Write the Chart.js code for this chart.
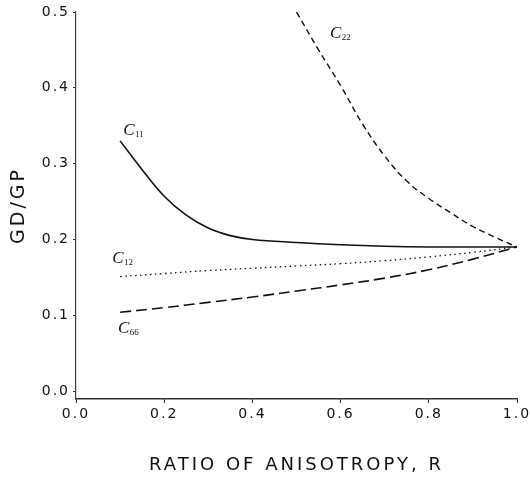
<!DOCTYPE html>
<html>
<head>
<meta charset="utf-8">
<script src="https://cdn.jsdelivr.net/npm/chart.js@4/dist/chart.umd.min.js"></script>
<style>
  html, body { margin: 0; padding: 0; background: #fff; }
  #wrap { width: 530px; height: 480px; }
</style>
</head>
<body>
<div id="wrap"><canvas id="c" width="530" height="480"></canvas></div>
<script>
// ---- data ----
const rC11 = [0.1, 0.15, 0.2, 0.25, 0.3, 0.35, 0.4, 0.5, 0.6, 0.7, 0.8, 0.9, 1.0];
const vC11 = [0.330, 0.292, 0.257, 0.232, 0.215, 0.205, 0.200, 0.196, 0.193, 0.191, 0.190, 0.190, 0.190];

const rC22 = [0.5, 0.55, 0.6, 0.65, 0.7, 0.75, 0.8, 0.85, 0.9, 0.95, 1.0];
const vC22 = [0.500, 0.450, 0.403, 0.352, 0.310, 0.277, 0.254, 0.235, 0.217, 0.203, 0.190];

const rC12 = [0.1, 0.2, 0.3, 0.4, 0.5, 0.6, 0.7, 0.8, 0.9, 1.0];
const vC12 = [0.151, 0.155, 0.159, 0.162, 0.165, 0.168, 0.172, 0.177, 0.183, 0.190];

const rC66 = [0.1, 0.2, 0.3, 0.4, 0.5, 0.6, 0.7, 0.8, 0.9, 1.0];
const vC66 = [0.104, 0.110, 0.117, 0.124, 0.132, 0.140, 0.149, 0.160, 0.174, 0.190];

// curve labels (subscript part) and their anchor in data coordinates
const labelSubs = ['11', '22', '12', '66'];
const labelR    = [0.107, 0.576, 0.082, 0.095];
const labelV    = [0.344, 0.472, 0.175, 0.082];

const xTicks = [0.0, 0.2, 0.4, 0.6, 0.8, 1.0];
const yTicks = [0.0, 0.1, 0.2, 0.3, 0.4, 0.5];
const xTitle = 'RATIO OF ANISOTROPY, R';
const yTitle = 'GD/GP';

const pts = (rs, vs) => rs.map((r, i) => ({ x: r, y: vs[i] }));

const spacing = {
  id: 'spacing',
  afterLayout(chart) {
    ['x', 'y'].forEach(id => {
      const sc = chart.scales[id];
      if (sc && !sc._wrappedTitle) {
        const orig = sc.drawTitle.bind(sc);
        sc.drawTitle = function () {
          const ctx = this.ctx; const prev = ctx.letterSpacing;
          ctx.letterSpacing = '3px'; orig(); ctx.letterSpacing = prev;
        };
        sc._wrappedTitle = true;
      }
    });
  },
  beforeDraw(chart) { chart.ctx.letterSpacing = '2px'; },
  beforeDatasetsDraw(chart) { chart.ctx.letterSpacing = '0px'; }
};

const curveLabels = {
  id: 'curveLabels',
  afterDatasetsDraw(chart) {
    const ctx = chart.ctx, xs = chart.scales.x, ys = chart.scales.y;
    ctx.save();
    ctx.letterSpacing = '0px';
    ctx.fillStyle = '#111';
    ctx.textBaseline = 'middle';
    ctx.textAlign = 'left';
    labelSubs.forEach((s, i) => {
      const px = xs.getPixelForValue(labelR[i]);
      const py = ys.getPixelForValue(labelV[i]);
      ctx.font = 'italic 17px "Liberation Serif", serif';
      ctx.fillText('C', px, py);
      const w = ctx.measureText('C').width;
      ctx.font = '9px "Liberation Serif", serif';
      ctx.fillText(s, px + w + 0.5, py + 4);
    });
    ctx.restore();
  }
};

new Chart(document.getElementById('c'), {
  type: 'line',
  data: {
    datasets: [
      { label: 'C11', data: pts(rC11, vC11), borderColor: '#111', borderWidth: 1.6, borderDash: [] },
      { label: 'C22', data: pts(rC22, vC22), borderColor: '#111', borderWidth: 1.4, borderDash: [6, 4] },
      { label: 'C12', data: pts(rC12, vC12), borderColor: '#111', borderWidth: 1.3, borderDash: [1.5, 3.5] },
      { label: 'C66', data: pts(rC66, vC66), borderColor: '#111', borderWidth: 1.6, borderDash: [11, 5] }
    ]
  },
  options: {
    responsive: false,
    animation: false,
    devicePixelRatio: 1,
    layout: { padding: { left: 0, right: 13, top: 12, bottom: 0 } },
    elements: {
      point: { radius: 0, hoverRadius: 0 },
      line: { tension: 0.4, fill: false }
    },
    plugins: { legend: { display: false }, tooltip: { enabled: false } },
    scales: {
      x: {
        type: 'linear', min: 0, max: 1.0,
        afterBuildTicks(s) { s.ticks = xTicks.map(v => ({ value: v })); },
        afterFit(s) { s.height = 81; s.paddingLeft = 0; s.paddingRight = 0; },
        grid: { display: true, drawOnChartArea: false, drawTicks: true, tickLength: 4, color: '#333', lineWidth: 1 },
        border: { display: true, color: '#333', width: 1.4 },
        ticks: {
          padding: 3, color: '#111', maxRotation: 0, autoSkip: false,
          font: { family: '"DejaVu Sans", sans-serif', size: 14 },
          callback: v => Number(v).toFixed(1)
        },
        title: {
          display: true, text: xTitle, color: '#111',
          font: { family: '"DejaVu Sans", sans-serif', size: 18 },
          padding: { top: 0, bottom: 4 }
        }
      },
      y: {
        type: 'linear', min: -0.0105, max: 0.5,
        afterBuildTicks(s) { s.ticks = yTicks.map(v => ({ value: v })); },
        afterFit(s) { s.width = 76; s.paddingTop = 0; s.paddingBottom = 0; },
        grid: { display: true, drawOnChartArea: false, drawTicks: true, tickLength: 3, color: '#333', lineWidth: 1 },
        border: { display: true, color: '#444', width: 1.2 },
        ticks: {
          padding: 3, color: '#111', autoSkip: false,
          font: { family: '"DejaVu Sans", sans-serif', size: 14 },
          callback: v => Number(v).toFixed(1)
        },
        title: {
          display: true, text: yTitle, color: '#111',
          font: { family: '"DejaVu Sans", sans-serif', size: 19 },
          padding: { top: 8, bottom: 0 }
        }
      }
    }
  },
  plugins: [spacing, curveLabels]
});
</script>
</body>
</html>
